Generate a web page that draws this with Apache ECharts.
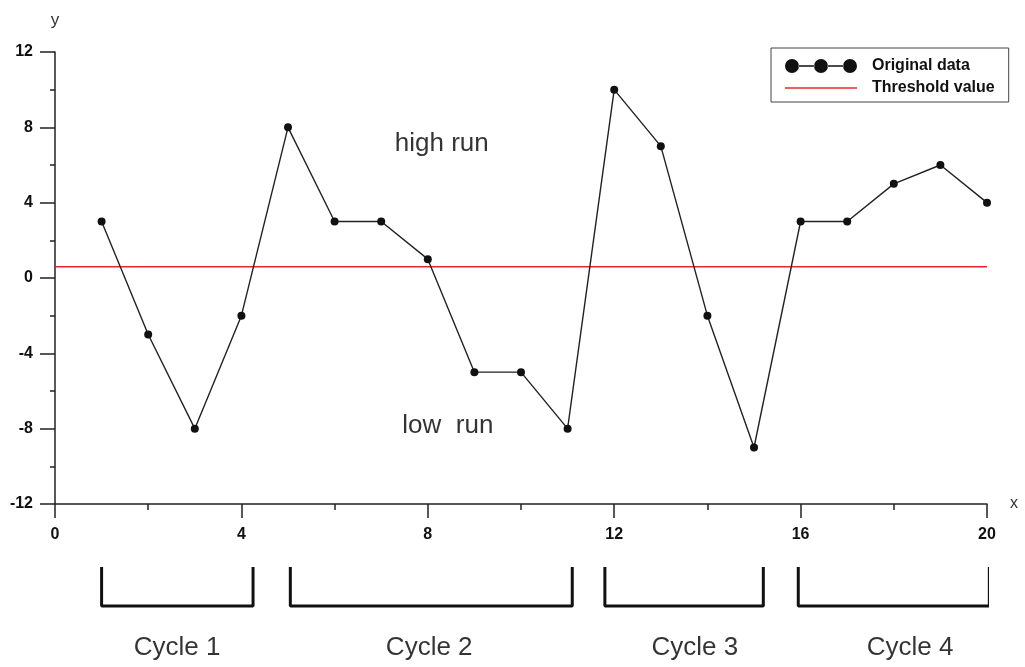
<!DOCTYPE html>
<html>
<head>
<meta charset="utf-8">
<script src="https://cdn.jsdelivr.net/npm/echarts@6/dist/echarts.min.js"></script>
<style>
  html, body { margin: 0; padding: 0; background: #fff; }
  #chart { width: 1025px; height: 667px; }
</style>
</head>
<body>
<div id="chart"></div>
<script>
// Observations x = 1..20 and their values
const xValues = [1, 2, 3, 4, 5, 6, 7, 8, 9, 10, 11, 12, 13, 14, 15, 16, 17, 18, 19, 20];
const yValues = [3, -3, -8, -2, 8, 3, 3, 1, -5, -5, -8, 10, 7, -2, -9, 3, 3, 5, 6, 4];
const thresholdValue = 0.6;

// Cycle brackets drawn under the axis: [start x, end x, label x]
const cycleNames = ['Cycle 1', 'Cycle 2', 'Cycle 3', 'Cycle 4'];
const cycleStart = [1, 5.05, 11.8, 15.95];
const cycleEnd = [4.25, 11.1, 15.2, 20.05];
const cycleLabelX = [2.62, 8.03, 13.73, 18.35];

// Run annotations inside the plot
const runNames = ['high run', 'low  run'];
const runX = [8.3, 8.43];
const runY = [7.15, -7.85];

const FONT = '"Liberation Sans", Arial, sans-serif';

const chart = echarts.init(document.getElementById('chart'));

const dataPoints = xValues.map((x, i) => [x, yValues[i]]);

const bracketSeries = cycleNames.map((name, i) => ({
  type: 'line',
  name: name,
  xAxisIndex: 1,
  yAxisIndex: 1,
  symbol: 'none',
  silent: true,
  lineStyle: { color: '#111', width: 3 },
  data: [[cycleStart[i], 1], [cycleStart[i], 0], [cycleEnd[i], 0], [cycleEnd[i], 1]]
}));

// Legend glyphs: three dots joined by a line, and a plain red line
const dotsIcon = 'path://M0,7 a7,7 0 1,0 14,0 a7,7 0 1,0 -14,0 Z ' +
  'M29,7 a7,7 0 1,0 14,0 a7,7 0 1,0 -14,0 Z ' +
  'M58,7 a7,7 0 1,0 14,0 a7,7 0 1,0 -14,0 Z ' +
  'M13.5,6.2 L29.5,6.2 L29.5,7.8 L13.5,7.8 Z ' +
  'M42.5,6.2 L58.5,6.2 L58.5,7.8 L42.5,7.8 Z';
const redIcon = 'path://M0,0 L72,0 L72,1.6 L0,1.6 Z';

const option = {
  backgroundColor: '#fff',
  animation: false,
  legend: {
    orient: 'vertical',
    left: 771,
    top: 48,
    padding: [10, 14, 6, 14],
    borderColor: '#444',
    borderWidth: 1,
    itemWidth: 72,
    itemHeight: 14,
    itemGap: 6,
    textStyle: { fontFamily: FONT, fontSize: 16, fontWeight: 'bold', color: '#111', padding: [0, 0, 0, 10] },
    data: [
      { name: 'Original data', icon: dotsIcon, itemStyle: { color: '#111' } },
      { name: 'Threshold value', icon: redIcon, itemStyle: { color: '#e8262a' } }
    ]
  },
  grid: [
    { left: 55, right: 38, top: 52, bottom: 163 },
    { left: 55, right: 38, top: 567, height: 93.6 }
  ],
  xAxis: [
    {
      type: 'value',
      min: 0, max: 20, interval: 4,
      name: 'x',
      nameLocation: 'end',
      nameGap: 23,
      nameTextStyle: { fontFamily: FONT, fontSize: 16, color: '#333', verticalAlign: 'middle', padding: [6, 0, 0, 0] },
      axisLine: { show: true, onZero: false, lineStyle: { color: '#222', width: 1.5 } },
      axisTick: { show: true, inside: false, length: 14, lineStyle: { color: '#222', width: 1.5 } },
      minorTick: { show: true, splitNumber: 2, length: 6, lineStyle: { color: '#222', width: 1.5 } },
      axisLabel: { margin: 23, fontFamily: FONT, fontSize: 16, fontWeight: 'bold', color: '#111' },
      splitLine: { show: false }
    },
    {
      type: 'value', gridIndex: 1, min: 0, max: 20, show: false
    }
  ],
  yAxis: [
    {
      type: 'value',
      min: -12, max: 12, interval: 4,
      name: 'y',
      nameLocation: 'end',
      nameGap: 23,
      nameTextStyle: { fontFamily: FONT, fontSize: 17, color: '#333', align: 'center', padding: [0, 0, 0, 0] },
      axisLine: { show: true, onZero: false, lineStyle: { color: '#222', width: 1.5 } },
      axisTick: { show: true, inside: false, length: 15, lineStyle: { color: '#222', width: 1.5 } },
      minorTick: { show: true, splitNumber: 2, length: 5, lineStyle: { color: '#222', width: 1.5 } },
      axisLabel: { margin: 22, fontFamily: FONT, fontSize: 16, fontWeight: 'bold', color: '#111' },
      splitLine: { show: false }
    },
    {
      type: 'value', gridIndex: 1, min: -1.4, max: 1, show: false
    }
  ],
  series: [
    {
      type: 'line',
      name: 'Threshold value',
      symbol: 'none',
      silent: true,
      lineStyle: { color: '#e8262a', width: 1.5 },
      itemStyle: { color: '#e8262a' },
      data: [[0, thresholdValue], [20, thresholdValue]],
      z: 1
    },
    {
      type: 'line',
      name: 'Original data',
      symbol: 'circle',
      symbolSize: 8,
      lineStyle: { color: '#222', width: 1.4 },
      itemStyle: { color: '#111' },
      data: dataPoints,
      z: 3
    },
    {
      type: 'scatter',
      name: 'runs',
      symbolSize: 0,
      silent: true,
      label: {
        show: true, position: 'inside',
        fontFamily: FONT, fontSize: 26, color: '#000', textBorderWidth: 0,
        formatter: (p) => runNames[p.dataIndex]
      },
      data: runX.map((x, i) => [x, runY[i]])
    },
    ...bracketSeries,
    {
      type: 'scatter',
      name: 'cycles',
      xAxisIndex: 1,
      yAxisIndex: 1,
      symbolSize: 0,
      silent: true,
      label: {
        show: true, position: 'inside',
        fontFamily: FONT, fontSize: 26, color: '#000', textBorderWidth: 0,
        formatter: (p) => cycleNames[p.dataIndex]
      },
      data: cycleLabelX.map((x) => [x, -1.08])
    }
  ]
};

chart.setOption(option);
</script>
</body>
</html>
